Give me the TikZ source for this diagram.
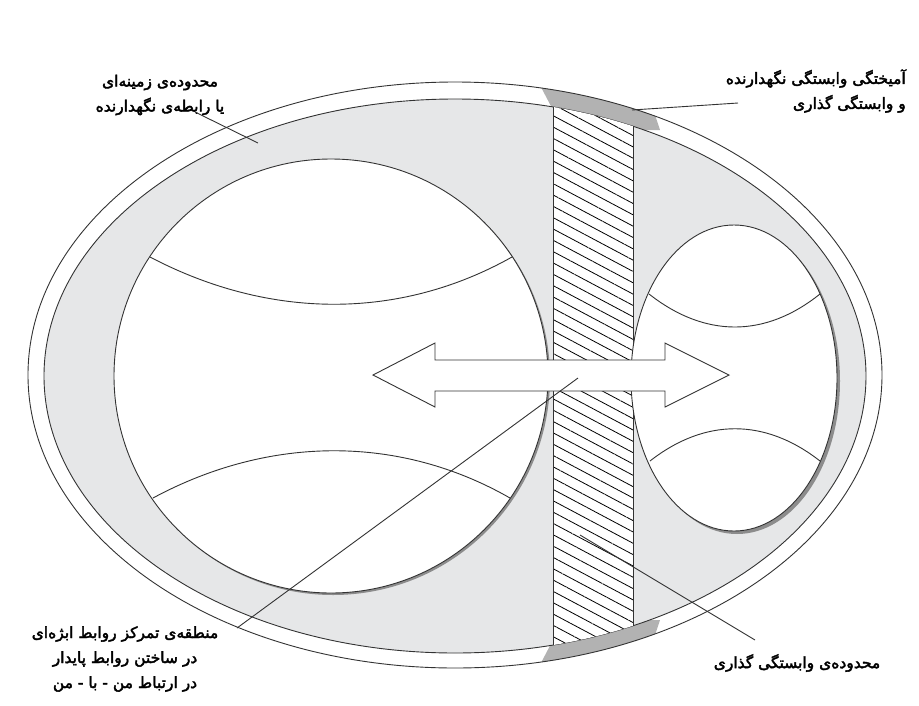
\documentclass[tikz,border=0pt]{standalone}
\usepackage{fontspec}
\usetikzlibrary{patterns.meta}
\TeXXeTstate=1
\newfontfamily\arabicfont[Script=Arabic,FakeBold=2.5]{DejaVu Sans}
\begin{document}
\begin{tikzpicture}[x=1pt,y=-1pt,
  lbl/.style={font=\arabicfont\fontsize{15.5}{25}\selectfont,align=center,inner sep=0pt},
  thin/.style={draw=black!80,line width=0.9pt},
  lead/.style={draw=black!80,line width=0.9pt}]
\useasboundingbox (0,0) rectangle (919,705);
\definecolor{fillg}{HTML}{E6E7E8}
\begin{scope}
\clip (532,70) -- (553,110) -- (633,130) -- (660,130) -- (640,70) -- cycle;
\fill[black!30] (455,375) ellipse [x radius=427,y radius=293];
\end{scope}
\begin{scope}
\clip (532,680) -- (553,640) -- (633,620) -- (660,620) -- (640,680) -- cycle;
\fill[black!30] (455,375) ellipse [x radius=427,y radius=293];
\end{scope}
\draw[thin] (455,375) ellipse [x radius=427,y radius=293];
\fill[fillg] (455,376) ellipse [x radius=411,y radius=277];
\draw[thin] (455,376) ellipse [x radius=411,y radius=277];
\begin{scope}
\clip (455,376) ellipse [x radius=411,y radius=277];
\fill[white] (553,60) rectangle (633,700);
\fill[pattern={Lines[angle=-28,distance=10pt,line width=0.8pt]}] (553,60) rectangle (633,700);
\draw[thin] (553,60) -- (553,700) (633,60) -- (633,700);
\end{scope}
\fill[black!45] (333,378) circle [radius=217];
\fill[white] (331,376) circle [radius=217];
\draw[thin] (331,376) circle [radius=217];
\draw[thin] (150,257) .. controls (270,320) and (400,320) .. (512,257);
\draw[thin] (153,498) .. controls (270,435) and (400,435) .. (510,498);
\fill[black!45] (737,381) ellipse [x radius=103,y radius=153];
\fill[white] (734,378) ellipse [x radius=103,y radius=153];
\draw[thin] (734,378) ellipse [x radius=103,y radius=153];
\draw[thin] (649,294) .. controls (705,338) and (765,338) .. (820,294);
\draw[thin] (650,461) .. controls (705,418) and (765,418) .. (820,461);
\draw[thin,fill=white] (373,375) -- (435,343) -- (435,360) -- (665,360) -- (665,343) -- (729,375)
  -- (665,407) -- (665,391) -- (435,391) -- (435,407) -- cycle;
\node[lbl] (tl) at (160,95) {\beginR محدوده‌ی زمینه‌ای\endR\\\beginR یا رابطه‌ی نگهدارنده\endR};
\node[lbl,align=right,anchor=east] (tr) at (906,91) {\beginR آمیختگی وابستگی نگهدارنده\endR\\\beginR و وابستگی گذاری\endR};
\node[lbl] (bl) at (125,659) {\beginR منطقه‌ی تمرکز روابط ابژه‌ای\endR\\\beginR در ساختن روابط پایدار\endR\\\beginR در ارتباط من - با - من\endR};
\node[lbl] (br) at (797,663) {\beginR محدوده‌ی وابستگی گذاری\endR};
\coordinate (ptl) at (258,143);
\coordinate (ptr) at (632,110);
\coordinate (pbl) at (578,378);
\coordinate (pbr) at (580,535);
\coordinate (etl) at (195,112);
\coordinate (etr) at (738,103);
\coordinate (ebl) at (237,628);
\coordinate (ebr) at (755,640);
\draw[lead] (etl) -- (ptl);
\draw[lead] (etr) -- (ptr);
\draw[lead] (ebl) -- (pbl);
\draw[lead] (ebr) -- (pbr);
\end{tikzpicture}
\end{document}
